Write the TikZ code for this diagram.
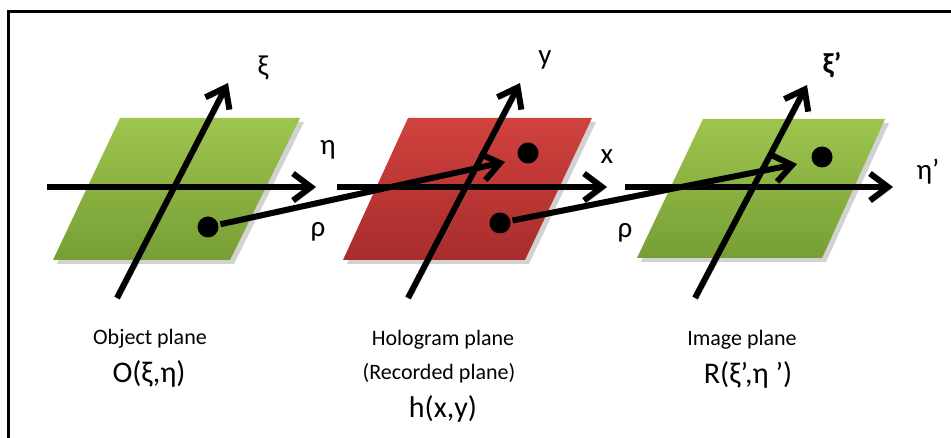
\documentclass[tikz,border=0pt]{standalone}
\usepackage{fontspec}
\setmainfont{Carlito}
\usetikzlibrary{arrows.meta}
\definecolor{gtop}{RGB}{158,197,78}
\definecolor{gbot}{RGB}{118,158,52}
\definecolor{rtop}{RGB}{208,66,62}
\definecolor{rbot}{RGB}{168,44,44}
\tikzset{
  axisarrow/.style={line width=6pt,-{Straight Barb[length=18pt,width=27pt]},
    preaction={draw=black!45,opacity=.45,transform canvas={shift={(2.5,2.5)}}}},
  dotnode/.style={circle,fill=black,inner sep=0pt,minimum size=21pt},
  axislabel/.style={font=\fontsize{29}{31}\selectfont,inner sep=0pt},
  caption/.style={font=\fontsize{22}{24}\selectfont,inner sep=0pt},
  formula/.style={font=\fontsize{30}{32}\selectfont,inner sep=0pt},
  planeshadow/.style={fill=black!35,opacity=.5},
}
\begin{document}
\begin{tikzpicture}[x=1pt,y=-1pt]
\useasboundingbox (0,0) rectangle (951,438);
\fill[white] (0,0) rectangle (951,438);
% frame
\draw[line width=3pt] (8,445) -- (8,12) -- (960,12);
% plane shadows
\fill[planeshadow] (124,122) -- (304,122) -- (234,264) -- (57,264) -- cycle;
\fill[planeshadow] (412,122) -- (596,122) -- (529,264) -- (347,264) -- cycle;
\fill[planeshadow] (707,123) -- (889,123) -- (826,262) -- (641,262) -- cycle;
% planes
\shade[top color=gtop,bottom color=gbot] (120,118) -- (300,118) -- (230,260) -- (53,260) -- cycle;
\shade[top color=rtop,bottom color=rbot] (408,118) -- (592,118) -- (525,260) -- (343,260) -- cycle;
\shade[top color=gtop,bottom color=gbot] (703,119) -- (885,119) -- (822,258) -- (637,258) -- cycle;
% axis end points
\coordinate (h1s) at (47,187);  \coordinate (h1e) at (316,187);
\coordinate (v1s) at (117,298); \coordinate (v1e) at (228,83);
\coordinate (h2s) at (337,187); \coordinate (h2e) at (607,187);
\coordinate (v2s) at (408,298); \coordinate (v2e) at (520,83);
\coordinate (h3s) at (625,187); \coordinate (h3e) at (893,187);
\coordinate (v3s) at (695,298); \coordinate (v3e) at (807,85);
% axes
\draw[axisarrow] (h1s) -- (h1e);
\draw[axisarrow] (v1s) -- (v1e);
\draw[axisarrow] (h2s) -- (h2e);
\draw[axisarrow] (v2s) -- (v2e);
\draw[axisarrow] (h3s) -- (h3e);
\draw[axisarrow] (v3s) -- (v3e);
% dots
\node[dotnode] (d1) at (208,227) {};
\node[dotnode] (d2a) at (528,153) {};
\node[dotnode] (d2b) at (500,223) {};
\node[dotnode] (d3) at (822,157) {};
% rho rays
\coordinate (r1e) at (505,162);
\coordinate (r2e) at (797,164);
\draw[axisarrow,shorten <=2pt] (d1) -- (r1e);
\draw[axisarrow,shorten <=2pt] (d2b) -- (r2e);
% axis labels
\node[axislabel] (lxi1) at (263,68) {ξ};
\node[axislabel] (leta1) at (328,150) {η};
\node[axislabel] (lrho1) at (318,232) {ρ};
\node[axislabel] (ly) at (545,60) {y};
\node[axislabel] (lx) at (607,157) {x};
\node[axislabel] (lrho2) at (625,233) {ρ};
\node[axislabel] (lxi3) at (832,65) {\textbf{ξ’}};
\node[axislabel] (leta3) at (928,172) {η’};
% captions
\node[caption] (c1) at (150,339) {Object plane};
\node[formula] (f1) at (149,374) {O(ξ,η)};
\node[caption] (c2) at (443,340) {Hologram plane};
\node[caption] (c2b) at (439,373) {(Recorded plane)};
\node[formula] (f2) at (443,409) {h(x,y)};
\node[caption] (c3) at (742,340) {Image plane};
\node[formula] (f3) at (748,375) {R(ξ’,η ’)};
\end{tikzpicture}
\end{document}
